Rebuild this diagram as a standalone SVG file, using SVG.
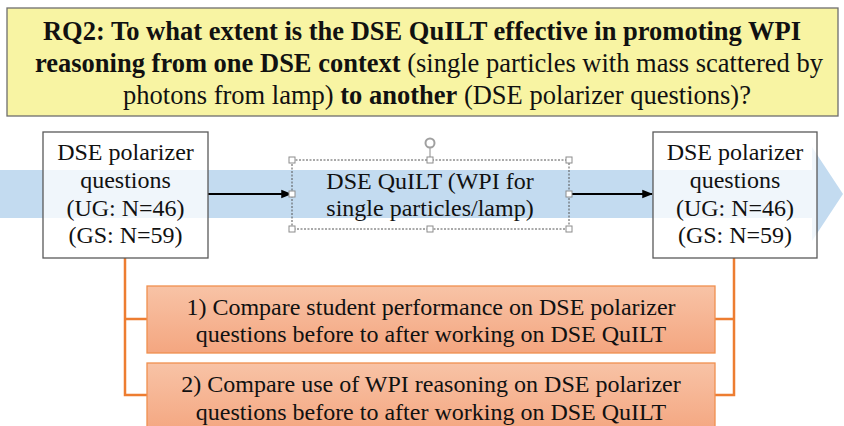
<svg xmlns="http://www.w3.org/2000/svg" width="844" height="426" viewBox="0 0 844 426" font-family="'Liberation Serif', 'DejaVu Serif', serif">
  <defs>
    <linearGradient id="orangeFill" x1="0" y1="0" x2="0" y2="1">
      <stop offset="0" stop-color="#F8C3A6"/>
      <stop offset="1" stop-color="#F4A680"/>
    </linearGradient>
    <marker id="arrow" viewBox="0 0 10 10" refX="9" refY="5" markerWidth="6" markerHeight="6" orient="auto">
      <path d="M0,1 L10,5 L0,9 z" fill="#000"/>
    </marker>
  </defs>
  <style>
    text { font-family: 'Liberation Serif', 'DejaVu Serif', serif; fill: #111; }
    .title { font-size: 26.5px; text-anchor: middle; }
    .b { font-weight: bold; }
    .node { font-size: 24px; text-anchor: middle; }
    .task { font-size: 24px; text-anchor: middle; }
    .box { fill: #fff; stroke: #595959; stroke-width: 1.3; }
    .orange { fill: url(#orangeFill); stroke: #F0904F; stroke-width: 1.3; }
    .link { stroke: #ED7D31; stroke-width: 2.5; fill: none; }
    .flow { stroke: #000; stroke-width: 1.8; fill: none; marker-end: url(#arrow); }
    .handle { fill: #fff; stroke: #8C8C8C; stroke-width: 1; }
  </style>

  <!-- research question banner -->
  <g id="question">
    <rect x="7" y="8" width="831" height="108" fill="#F8F4A3" stroke="#6E6E6E" stroke-width="1.3"/>
    <text class="title b" x="422" y="40">RQ2: To what extent is the DSE QuILT effective in promoting WPI</text>
    <text class="title" x="429" y="72"><tspan class="b">reasoning from one DSE context</tspan> (single particles with mass scattered by</text>
    <text class="title" x="437" y="104">photons from lamp) <tspan class="b">to another</tspan> (DSE polarizer questions)?</text>
  </g>

  <!-- wide background flow arrow -->
  <g id="flow-band">
    <path d="M0,170 H812 V147 L843,194 L812,241 V218 H0 Z" fill="#BDD7EE" fill-opacity="0.9"/>
  </g>

  <!-- connectors -->
  <g id="connectors">
    <line class="flow" x1="208" y1="194" x2="291" y2="194"/>
    <line class="flow" x1="569" y1="194" x2="652" y2="194"/>
    <path class="link" d="M125,258 V395 H147 M125,319 H147"/>
    <path class="link" d="M734,258 V395 H715 M734,319 H715"/>
  </g>

  <g id="pre-test">
    <rect class="box" x="43" y="132" width="165" height="126" fill-opacity="0.75"/>
    <text class="node" x="125.5" y="160">DSE polarizer</text>
    <text class="node" x="125.5" y="188">questions</text>
    <text class="node" x="125.5" y="216">(UG: N=46)</text>
    <text class="node" x="125.5" y="243">(GS: N=59)</text>
  </g>

  <g id="quilt">
    <rect x="292" y="160" width="277" height="69" fill="none" stroke="#555" stroke-width="1" stroke-dasharray="2,1.5"/>
    <line x1="430" y1="148" x2="430" y2="160" stroke="#8C8C8C" stroke-width="1"/>
    <circle cx="430" cy="143" r="4.5" fill="#fff" stroke="#A0A0A0" stroke-width="2"/>
    <rect class="handle" x="289" y="157" width="6" height="6"/>
    <rect class="handle" x="427" y="157" width="6" height="6"/>
    <rect class="handle" x="566" y="157" width="6" height="6"/>
    <rect class="handle" x="289" y="191" width="6" height="6"/>
    <rect class="handle" x="566" y="191" width="6" height="6"/>
    <rect class="handle" x="289" y="226" width="6" height="6"/>
    <rect class="handle" x="427" y="226" width="6" height="6"/>
    <rect class="handle" x="566" y="226" width="6" height="6"/>
    <text class="node" x="430" y="189">DSE QuILT (WPI for</text>
    <text class="node" x="430" y="216">single particles/lamp)</text>
  </g>

  <g id="post-test">
    <rect class="box" x="653" y="132" width="164" height="126" fill-opacity="0.75"/>
    <text class="node" x="735" y="160">DSE polarizer</text>
    <text class="node" x="735" y="188">questions</text>
    <text class="node" x="735" y="216">(UG: N=46)</text>
    <text class="node" x="735" y="243">(GS: N=59)</text>
  </g>

  <g id="analysis-1">
    <rect class="orange" x="147" y="286" width="568" height="67"/>
    <text class="task" x="431" y="315">1) Compare student performance on DSE polarizer</text>
    <text class="task" x="431" y="342">questions before to after working on DSE QuILT</text>
  </g>

  <g id="analysis-2">
    <rect class="orange" x="147" y="363" width="568" height="70"/>
    <text class="task" x="431" y="392">2) Compare use of WPI reasoning on DSE polarizer</text>
    <text class="task" x="431" y="420">questions before to after working on DSE QuILT</text>
  </g>
</svg>
